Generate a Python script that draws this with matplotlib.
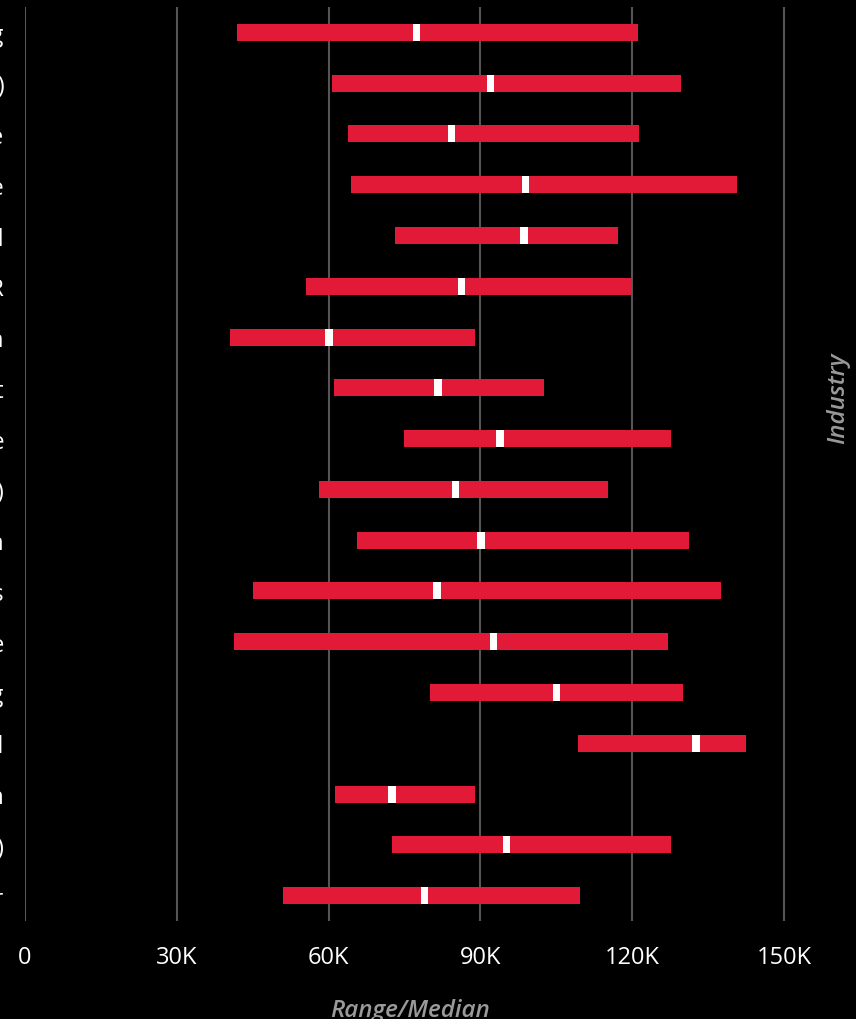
import matplotlib
matplotlib.use("Agg")
import matplotlib.pyplot as plt
from matplotlib.ticker import FuncFormatter

industries = [
    "Engineering", "Information Technology (IT)", "Healthcare", "Finance",
    "Legal", "HR", "Education", "Government", "Real Estate",
    "Non-Profit (NGO)", "Transportation", "Sales", "Retail Trade",
    "Marketing", "Pharmaceutical", "Construction",
    "Consulting (Management)", "Other",
]
salary_min = [41.9, 60.7, 63.8, 64.4, 73.1, 55.5, 40.5, 61.1, 74.9,
              58.1, 65.6, 45.1, 41.3, 80.0, 109.3, 61.3, 72.5, 51.0]
salary_median = [77.4, 92.0, 84.3, 98.9, 98.6, 86.3, 60.1, 81.6, 93.9,
                 85.1, 90.1, 81.4, 92.6, 105.1, 132.6, 72.5, 95.2, 78.9]
salary_max = [121.1, 129.6, 121.3, 140.7, 117.2, 119.9, 88.9, 102.6, 127.7,
              115.2, 131.2, 137.5, 127.1, 130.0, 142.5, 88.9, 127.7, 109.7]
x_ticks = [0, 30, 60, 90, 120, 150]

RED = "#E31A37"
plt.rcParams['font.family'] = ['Open Sans', 'DejaVu Sans']

W, H = 856, 1020
fig = plt.figure(figsize=(W / 100, H / 100), dpi=100, facecolor="black")
left_px, right_px, top_px, bot_px = 25, 809.3, 8, 922
ax = fig.add_axes([left_px / W, 1 - bot_px / H, (right_px - left_px) / W, (bot_px - top_px) / H])
ax.set_facecolor("black")

ys = list(range(len(industries)))
widths = [mx - mn for mn, mx in zip(salary_min, salary_max)]
bar_h = 0.335
ax.barh(ys, widths, left=salary_min, height=bar_h, color=RED, zorder=3)
med_w = 1.45
ax.barh(ys, [med_w] * len(ys), left=[m - med_w / 2 for m in salary_median],
        height=bar_h, color="white", zorder=4)

ax.set_xlim(0, 155)
ax.set_ylim(len(industries) - 0.5, -0.5)
ax.set_xticks(x_ticks)
ax.xaxis.set_major_formatter(FuncFormatter(lambda v, p: "0" if v == 0 else f"{int(v)}K"))
ax.set_yticks(ys)
ax.set_yticklabels(industries)
ax.grid(axis="x", color="#555555", linewidth=1.5, zorder=0)
ax.grid(axis="y", visible=False)
for s in ax.spines.values():
    s.set_visible(False)
ax.tick_params(axis="x", length=0, pad=17, labelsize=17, labelcolor="white")
ax.tick_params(axis="y", length=0, pad=15, labelsize=17, labelcolor="white")

fig.text(410 / W, 1 - 1011 / H, "Range/Median", color="#9a9a9a", fontsize=17.5,
         style="italic", weight="semibold", ha="center", va="center")
fig.text(838 / W, 1 - 398 / H, "Industry", color="#9a9a9a", fontsize=17.5,
         style="italic", weight="semibold", ha="center", va="center", rotation=90)

fig.savefig("out.png", dpi=100, facecolor="black")
